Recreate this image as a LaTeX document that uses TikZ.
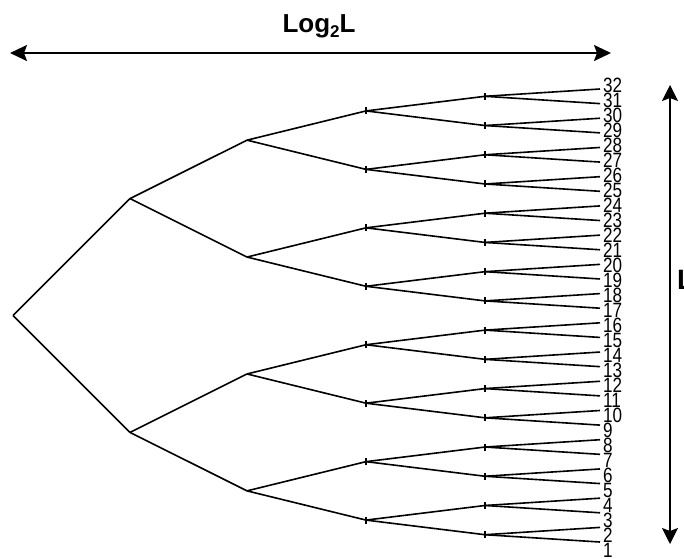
\documentclass[tikz,border=0pt]{standalone}
\usepackage{fontspec}
\setmainfont{Liberation Sans}
\usetikzlibrary{calc,arrows.meta}
\tikzset{
  edge/.style={draw=black,line width=1.6pt},
  tickmark/.style={draw=black,line width=1.1pt},
  bigarrow/.style={draw=black,line width=2pt,{Stealth[length=17pt,width=16pt,inset=3pt]}-{Stealth[length=17pt,width=16pt,inset=3pt]}},
  varrow/.style={draw=black,line width=1.4pt,{Stealth[length=16pt,width=16pt,inset=3pt]}-{Stealth[length=16pt,width=16pt,inset=3pt]}},
  lab/.style={anchor=west,inner sep=0pt,font=\fontsize{18}{18}\selectfont},
  title/.style={anchor=base,inner sep=0pt,font=\bfseries\fontsize{26}{26}\selectfont}
}
\begin{document}
\begin{tikzpicture}[x=1pt,y=-1pt]
\useasboundingbox[fill=white] (0,0) rectangle (684,558);
% leaves
\foreach \i in {1,...,32} {
  \coordinate (n5-\i) at (600,{89+(32-\i)*14.613});
}
% internal levels
\foreach \k/\x/\s/\n in {4/485/2/16, 3/366/4/8, 2/247/8/4, 1/130/16/2, 0/13/32/1} {
  \foreach \j in {1,...,\n} {
    \coordinate (n\k-\j) at (\x,{89+(32-(\j-1)*\s-(\s+1)/2)*14.613});
  }
}
% edges
\foreach \k/\n in {0/1, 1/2, 2/4, 3/8, 4/16} {
  \foreach \j in {1,...,\n} {
    \pgfmathtruncatemacro{\c}{\k+1}
    \pgfmathtruncatemacro{\a}{2*\j-1}
    \pgfmathtruncatemacro{\b}{2*\j}
    \draw[edge] (n\k-\j) -- (n\c-\a);
    \draw[edge] (n\k-\j) -- (n\c-\b);
  }
}
% small tick marks at internal nodes
\foreach \k/\n in {3/8, 4/16} {
  \foreach \j in {1,...,\n} {
    \draw[tickmark] ($(n\k-\j)+(0,-3.5)$) -- ($(n\k-\j)+(0,3.5)$);
  }
}
% leaf labels
\foreach \i in {1,...,32} {
  \node[lab] (t\i) at (603,{85+(32-\i)*15.0}) {\scalebox{0.95}[1.15]{\i}};
}
% horizontal arrow and title
\coordinate (hl) at (10,53);
\coordinate (hr) at (611,53);
\draw[bigarrow] (hl) -- (hr);
\node[title] (logl) at (319,32) {Log\raisebox{-5pt}{\fontsize{17}{17}\selectfont 2}L};
% vertical arrow
\coordinate (vt) at (670,85);
\coordinate (vb) at (670,544);
\draw[varrow] (vt) -- (vb);
\node[anchor=west,inner sep=0pt,font=\bfseries\fontsize{28}{28}\selectfont] (ll) at (677,280) {L};
\end{tikzpicture}
\end{document}
